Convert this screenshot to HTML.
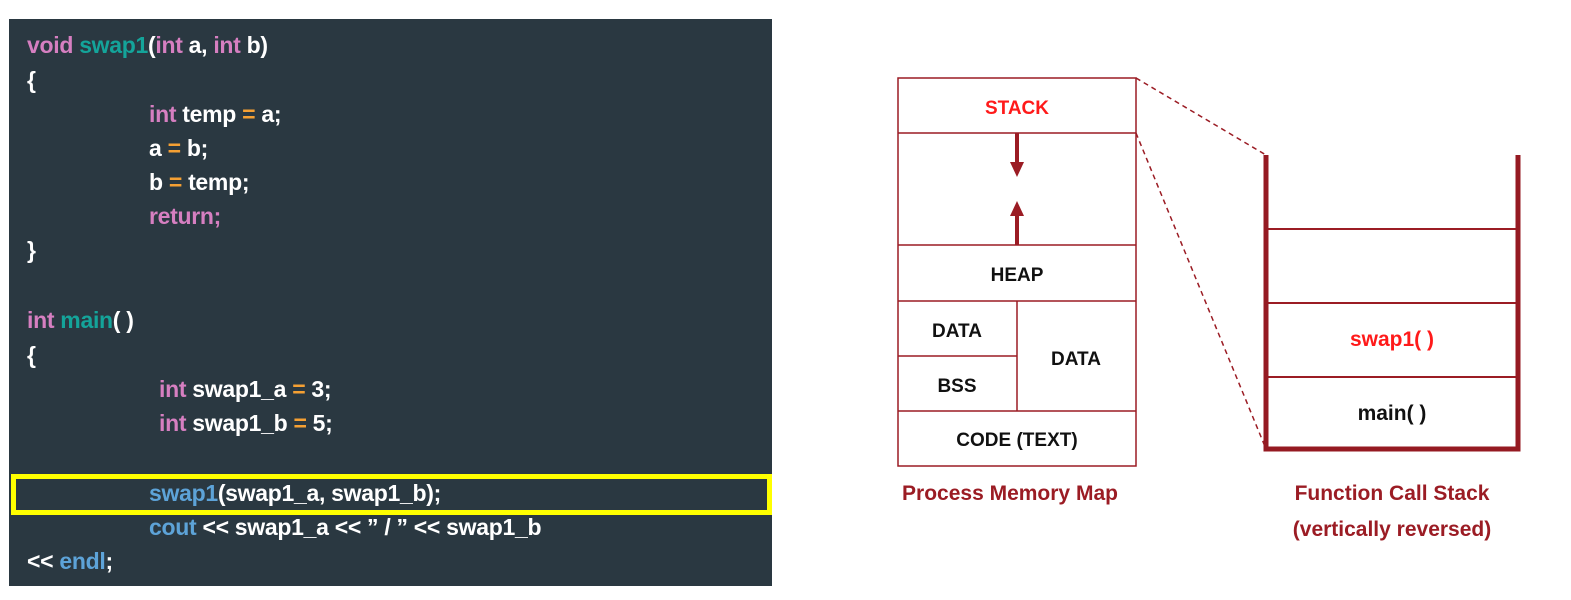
<!DOCTYPE html>
<html><head><meta charset="utf-8"><style>
body{margin:0;width:1571px;height:600px;background:#fff;position:relative;overflow:hidden;font-family:"Liberation Sans",sans-serif}
#code{position:absolute;left:9px;top:19px;width:763px;height:567px;background:#2a3841}
.l{position:absolute;left:18px;color:#fff;font-weight:bold;font-size:23px;line-height:30px;white-space:pre;letter-spacing:-0.3px}
.k{color:#d67fc1}.f{color:#14a49a}.o{color:#f5a033}.b{color:#5da3d8}
#hl{position:absolute;left:11px;top:474px;width:751px;height:31px;border:5px solid #ffff00}
</style></head><body>
<div id="code">
<div class="l" style="top:11px"><span class="k">void</span> <span class="f">swap1</span>(<span class="k">int</span> a, <span class="k">int</span> b)</div>
<div class="l" style="top:46px">{</div>
<div class="l" style="top:80px;left:140px"><span class="k">int</span> temp <span class="o">=</span> a;</div>
<div class="l" style="top:114px;left:140px">a <span class="o">=</span> b;</div>
<div class="l" style="top:148px;left:140px">b <span class="o">=</span> temp;</div>
<div class="l" style="top:182px;left:140px"><span class="k">return;</span></div>
<div class="l" style="top:216px">}</div>
<div class="l" style="top:286px"><span class="k">int</span> <span class="f">main</span>( )</div>
<div class="l" style="top:321px">{</div>
<div class="l" style="top:355px;left:150px"><span class="k">int</span> swap1_a <span class="o">=</span> 3;</div>
<div class="l" style="top:389px;left:150px"><span class="k">int</span> swap1_b <span class="o">=</span> 5;</div>
<div class="l" style="top:459px;left:140px"><span class="b">swap1</span>(swap1_a, swap1_b);</div>
<div class="l" style="top:493px;left:140px"><span class="b">cout</span> &lt;&lt; swap1_a &lt;&lt; ” / ” &lt;&lt; swap1_b</div>
<div class="l" style="top:527px">&lt;&lt; <span class="b">endl</span>;</div>
</div>
<div id="hl"></div>
<svg width="1571" height="600" style="position:absolute;left:0;top:0" font-family="Liberation Sans, sans-serif" font-weight="bold">
<g fill="none" stroke="#9b1c24" stroke-width="1.5">
<rect x="898" y="78" width="238" height="388"/>
<line x1="898" y1="133" x2="1136" y2="133"/>
<line x1="898" y1="245" x2="1136" y2="245"/>
<line x1="898" y1="301" x2="1136" y2="301"/>
<line x1="898" y1="356" x2="1017" y2="356"/>
<line x1="1017" y1="301" x2="1017" y2="411"/>
<line x1="898" y1="411" x2="1136" y2="411"/>
<line x1="1136" y1="78" x2="1266" y2="155" stroke-dasharray="5,4"/>
<line x1="1136" y1="133" x2="1266" y2="449" stroke-dasharray="5,4"/>
<line x1="1266" y1="229" x2="1518" y2="229" stroke-width="2"/>
<line x1="1266" y1="303" x2="1518" y2="303" stroke-width="2"/>
<line x1="1266" y1="377" x2="1518" y2="377" stroke-width="2"/>
<path d="M1266 155 V449 H1518 V155" stroke="#951a22" stroke-width="5"/>
<line x1="1017" y1="133" x2="1017" y2="164" stroke-width="4"/>
<line x1="1017" y1="214" x2="1017" y2="245" stroke-width="4"/>
</g>
<polygon points="1010,162 1024,162 1017,177" fill="#9b1c24"/>
<polygon points="1010,216 1024,216 1017,201" fill="#9b1c24"/>
<g font-size="19" text-anchor="middle" fill="#111">
<text x="1017" y="114" fill="#ff1a1a">STACK</text>
<text x="1017" y="281">HEAP</text>
<text x="957" y="337">DATA</text>
<text x="957" y="392">BSS</text>
<text x="1076" y="365">DATA</text>
<text x="1017" y="446">CODE (TEXT)</text>
<text x="1392" y="346" font-size="21" fill="#ff1a1a">swap1( )</text>
<text x="1392" y="420" font-size="21">main( )</text>
</g>
<g font-size="21" text-anchor="middle" fill="#9b1c24">
<text x="1010" y="500">Process Memory Map</text>
<text x="1392" y="500">Function Call Stack</text>
<text x="1392" y="536">(vertically reversed)</text>
</g>
</svg>
</body></html>
